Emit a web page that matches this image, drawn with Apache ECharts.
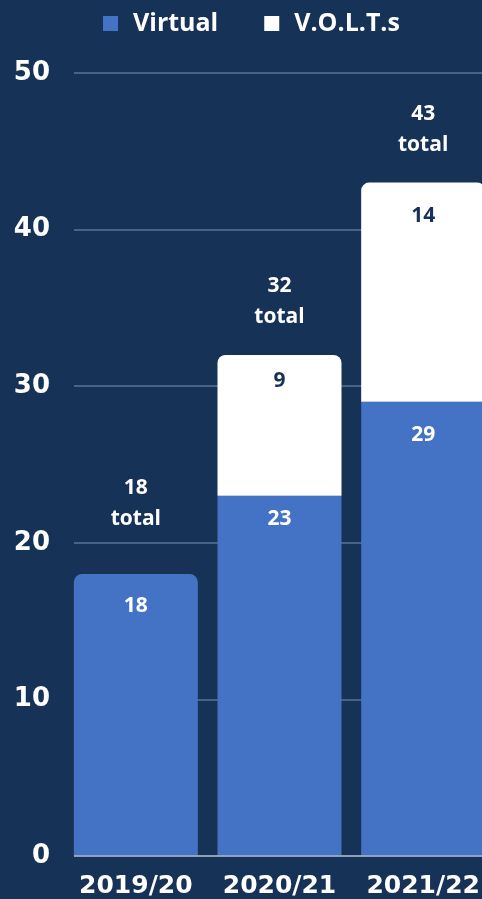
<!DOCTYPE html>
<html><head><meta charset="utf-8">
<script src="https://cdn.jsdelivr.net/npm/echarts@6/dist/echarts.min.js"></script>
<style>html,body{margin:0;padding:0;background:#163257;overflow:hidden;width:482px;height:899px;}#c{width:495px;height:899px;}</style>
</head><body><div id="c"></div>
<script>
const categories = ['2019/20', '2020/21', '2021/22'];
const virtualValues = [18, 23, 29];
const voltsValues = [0, 9, 14];
const yTicks = [0, 10, 20, 30, 40, 50];

const BG = '#163257', BLUE = '#4472c4', NAVY = '#17325a';
const FONT = 'Open Sans';
const NUMFONT = 'DejaVu Sans';
const R = 8;
// label placement (style only)
const virtualLabelDist = [21, 13, 23];
const voltsLabelDist = [16, 16, 23];
const totalLabelDist = [40, 22, 22];

const totals = categories.map((c, i) => virtualValues[i] + voltsValues[i]);
const virtualData = virtualValues.map((v, i) => ({
  value: v,
  itemStyle: { borderRadius: voltsValues[i] > 0 ? 0 : [R, R, 0, 0] },
  label: { distance: virtualLabelDist[i] }
}));
const voltsData = voltsValues.map((v, i) => ({ value: v > 0 ? v : '-', itemStyle: { borderRadius: [R, R, 0, 0] },
  label: { distance: voltsLabelDist[i] } }));
const totalData = totals.map((t, i) => ({ value: 0, label: { distance: totalLabelDist[i] } }));

const chart = echarts.init(document.getElementById('c'));
chart.setOption({
  backgroundColor: BG,
  animation: false,
  textStyle: { fontFamily: FONT },
  legend: {
    data: ['Virtual', 'V.O.L.T.s'],
    top: 11, left: 103, padding: 0,
    itemWidth: 15, itemHeight: 15, itemGap: 46,
    icon: 'rect',
    textStyle: { color: '#fff', fontSize: 25, fontWeight: 'bold', fontFamily: FONT, padding: [0, 0, 0, 10] }
  },
  grid: [
    { left: 64, right: 0, top: 73, bottom: 43 },
    { left: 74, right: 13, top: 73, bottom: 43 }
  ],
  xAxis: [
    { type: 'category', gridIndex: 0, data: categories,
      axisLine: { show: false }, axisTick: { show: false },
      axisLabel: { interval: 0, color: '#fff', fontSize: 25, fontWeight: 'bold', margin: 18, fontFamily: NUMFONT } },
    { type: 'value', gridIndex: 1, min: 0, max: 1, show: true,
      axisLine: { show: false }, axisTick: { show: false }, axisLabel: { show: false }, splitLine: { show: false } }
  ],
  yAxis: [
    { type: 'value', gridIndex: 0, min: yTicks[0], max: yTicks[yTicks.length - 1], interval: 10,
      axisLabel: { show: false }, splitLine: { show: false }, axisLine: { show: false }, axisTick: { show: false } },
    { type: 'value', gridIndex: 1, min: yTicks[0], max: yTicks[yTicks.length - 1], interval: 10,
      axisLine: { show: false }, axisTick: { show: false },
      axisLabel: { color: '#fff', fontSize: 26, fontWeight: 'bold', margin: 24, fontFamily: NUMFONT },
      splitLine: { lineStyle: { color: '#5b7394', width: 1.5 } } }
  ],
  series: [
    { name: 'Virtual', type: 'bar', stack: 's', barWidth: 124, data: virtualData,
      itemStyle: { color: BLUE },
      label: { show: true, position: 'insideTop', color: '#fff', fontSize: 21, fontWeight: 'bold', fontFamily: FONT } },
    { name: 'V.O.L.T.s', type: 'bar', stack: 's', barWidth: 124, data: voltsData,
      itemStyle: { color: '#fff' },
      label: { show: true, position: 'insideTop', color: NAVY, fontSize: 21, fontWeight: 'bold', fontFamily: FONT } },
    { name: 'Total', type: 'bar', stack: 's', barWidth: 124, data: totalData,
      itemStyle: { color: 'transparent' },
      label: { show: true, position: 'top', color: '#fff', fontSize: 21, fontWeight: 'bold', lineHeight: 31,
        fontFamily: FONT, formatter: p => totals[p.dataIndex] + '\ntotal' } },
    { type: 'line', xAxisIndex: 1, yAxisIndex: 1, data: [],
      markLine: { silent: true, symbol: 'none', label: { show: false },
        lineStyle: { color: '#a9b6c8', width: 1.5, type: 'solid' }, data: [{ yAxis: 0 }] } }
  ]
});
</script></body></html>
